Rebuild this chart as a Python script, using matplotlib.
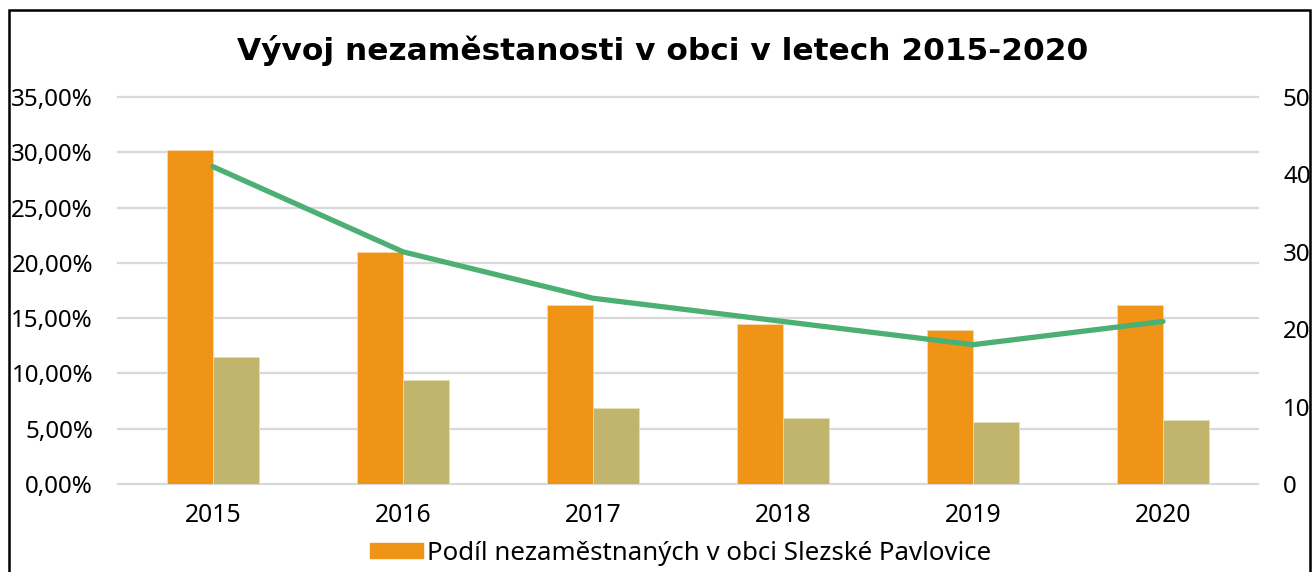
import matplotlib
matplotlib.use("Agg")
import matplotlib.pyplot as plt
from matplotlib.patches import Rectangle, Patch
from matplotlib.ticker import FuncFormatter
import numpy as np

years = ["2015", "2016", "2017", "2018", "2019", "2020"]
podil_obec = [30.2, 21.0, 16.2, 14.5, 13.9, 16.2]      # % share in the village
podil_okres = [11.5, 9.4, 6.9, 6.0, 5.6, 5.8]          # % share, comparison
pocet = [41, 30, 24, 21, 18, 21]                       # number of unemployed

ORANGE = "#ef9416"
OLIVE = "#c1b56e"
GREEN = "#4caf73"
GRID = "#d9d9d9"

plt.rcParams["font.family"] = ["Noto Sans", "DejaVu Sans"]

fig = plt.figure(figsize=(13.13, 5.72), dpi=100)
ax = fig.add_axes([118 / 1313, 1 - 484 / 572, 1140 / 1313, 387 / 572])
ax2 = ax.twinx()

x = np.arange(len(years))
w = 0.24
ax.bar(x - w / 2, podil_obec, w, color=ORANGE, edgecolor="#f6d9a8", linewidth=0.6, zorder=3)
ax.bar(x + w / 2, podil_okres, w, color=OLIVE, edgecolor="#e6dfb8", linewidth=0.6, zorder=3)
ax2.plot(x, pocet, color=GREEN, lw=3.8, solid_capstyle="round", zorder=4)

ax.set_xlim(-0.5, len(years) - 0.5)
ax.set_ylim(0, 35)
ax.set_yticks(np.arange(0, 36, 5))
ax.yaxis.set_major_formatter(FuncFormatter(lambda v, p: f"{v:.2f}%".replace(".", ",")))
ax2.set_ylim(0, 50)
ax2.set_yticks(np.arange(0, 51, 10))

ax.set_xticks(x)
ax.set_xticklabels(years)
ax.grid(axis="y", color=GRID, lw=1.6, zorder=0)
for gl in ax.get_ygridlines():
    gl.set_clip_on(False)
ax.set_axisbelow(True)
for a in (ax, ax2):
    for s in a.spines.values():
        s.set_visible(False)
    a.tick_params(length=0, labelsize=17.4)
ax.tick_params(axis="y", pad=18)
ax.tick_params(axis="x", pad=14, labelsize=17.8)
ax2.tick_params(axis="y", pad=18)

fig.text(0.505, 1 - 50 / 572, "Vývoj nezaměstanosti v obci v letech 2015-2020",
         ha="center", va="center", fontsize=22.5, fontweight="bold", family="DejaVu Sans")

fig.legend(handles=[Patch(color=ORANGE, label="Podíl nezaměstnaných v obci Slezské Pavlovice")],
           loc="center left", bbox_to_anchor=(370 / 1313, 1 - 553 / 572), frameon=False,
           borderpad=0, borderaxespad=0, fontsize=18.6,
           handlelength=2.05, handleheight=0.5, handletextpad=0.15)

fig.add_artist(Rectangle((9 / 1313, -0.1), 1301 / 1313, 1.1 - 10 / 572,
                         transform=fig.transFigure, fill=False, ec="black", lw=1.8))

fig.savefig("out.png", dpi=100)
